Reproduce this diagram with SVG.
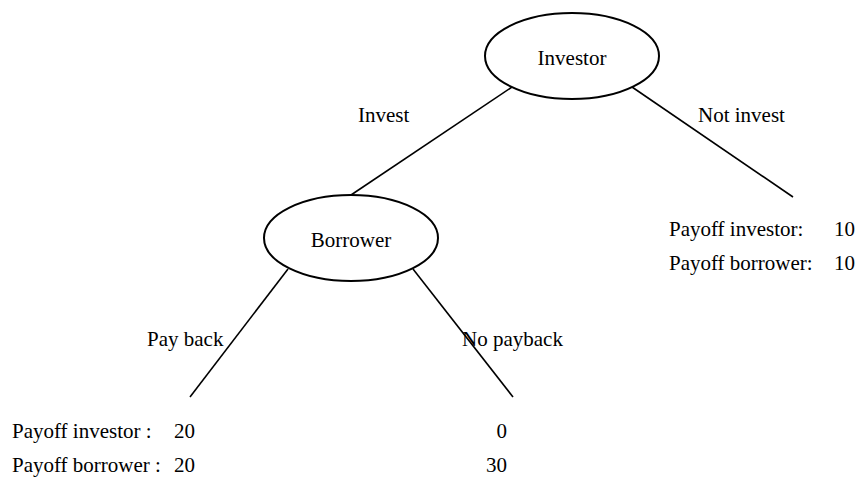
<svg xmlns="http://www.w3.org/2000/svg" width="855" height="477" viewBox="0 0 855 477">
<style>
text{font-family:"Liberation Serif","Times New Roman",serif;font-size:21px;fill:#000}
.node{fill:#fff;stroke:#000;stroke-width:2}
.edge{stroke:#000;stroke-width:1.6;fill:none}
</style>
<rect width="855" height="477" fill="#fff"/>
<g id="connectors">
<line class="edge" x1="512" y1="87" x2="351" y2="195"/>
<line class="edge" x1="632" y1="87" x2="793" y2="197"/>
<line class="edge" x1="288" y1="269" x2="190" y2="397"/>
<line class="edge" x1="413" y1="269" x2="513" y2="397"/>
</g>
<g id="investor">
<ellipse class="node" cx="572" cy="56" rx="87" ry="43"/>
<text x="572" y="65" text-anchor="middle">Investor</text>
</g>
<g id="borrower">
<ellipse class="node" cx="351" cy="238" rx="87" ry="43"/>
<text x="351" y="247" text-anchor="middle">Borrower</text>
</g>
<g id="labels">
<text x="358" y="122">Invest</text>
<text x="698" y="122">Not invest</text>
<text x="147" y="346">Pay back</text>
<text x="462" y="346">No payback</text>
</g>
<g id="payoff-notinvest">
<text x="669" y="236">Payoff investor:</text>
<text x="834" y="236">10</text>
<text x="669" y="270">Payoff borrower:</text>
<text x="834" y="270">10</text>
</g>
<g id="payoff-bottom">
<text x="12" y="438">Payoff investor :</text>
<text x="174" y="438">20</text>
<text x="507" y="438" text-anchor="end">0</text>
<text x="12" y="472">Payoff borrower :</text>
<text x="174" y="472">20</text>
<text x="507" y="472" text-anchor="end">30</text>
</g>
</svg>
